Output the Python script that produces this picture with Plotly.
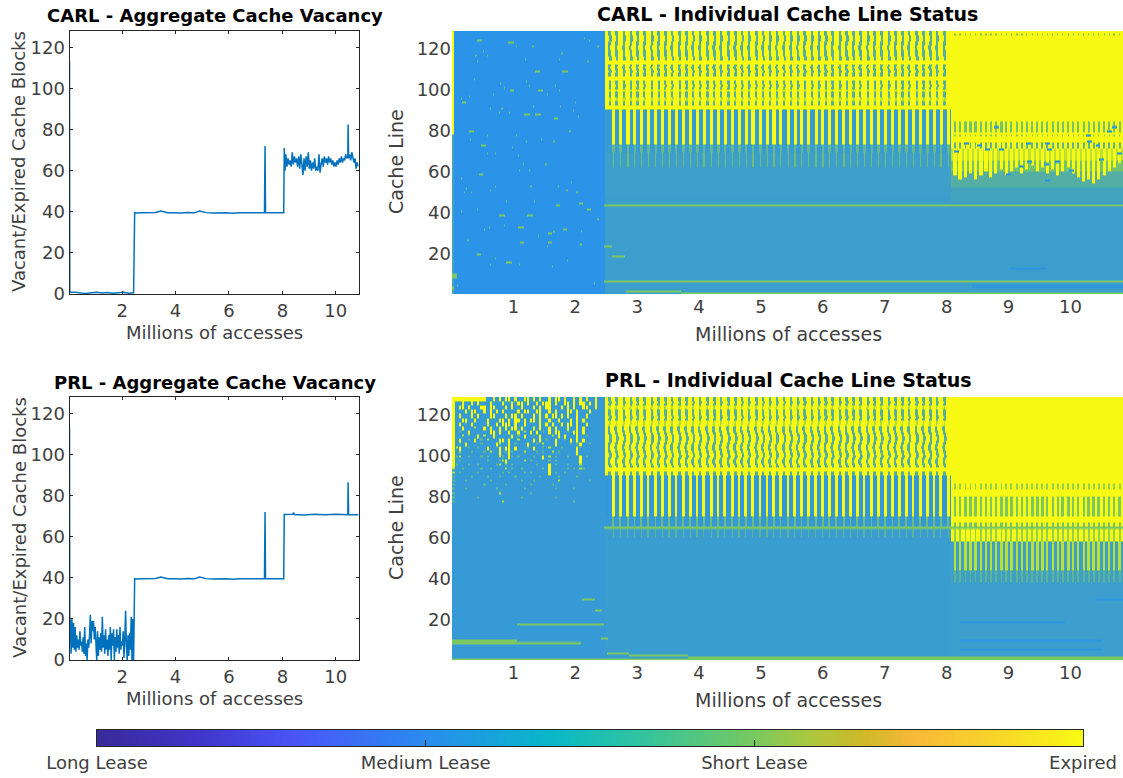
import numpy as np
import plotly.graph_objects as go

W, H = 1123, 778
FONT = "DejaVu Sans"

# ---- aggregate vacancy series (millions of accesses, blocks) ----
mid_x = [2.47, 2.50, 2.75, 3.00, 3.25, 3.45, 3.70, 3.95, 4.20, 4.45, 4.70, 4.90, 5.15, 5.40, 5.65, 5.90, 6.15, 6.40, 6.65, 6.90, 7.15, 7.33, 7.35, 7.37, 7.60, 7.85, 8.05]
mid_y = [39.8, 39.4, 39.6, 39.5, 39.7, 40.4, 39.5, 39.6, 39.4, 39.7, 39.5, 40.4, 39.6, 39.4, 39.6, 39.5, 39.3, 39.6, 39.5, 39.4, 39.6, 39.5, 72.0, 39.5, 39.6, 39.4, 39.5]

carl_start_x = [0.03, 0.03, 0.04, 0.06, 0.25, 0.45, 0.65, 0.85, 1.05, 1.25, 1.45, 1.65, 1.85, 2.05, 2.25, 2.43]
carl_start_y = [113, 50, 0.9, 0.8, 0.9, 0.5, 0.3, 0.6, 0.8, 0.5, 0.7, 0.4, 0.6, 0.9, 0.4, 0.6]
carl_end_x = [8.07, 8.10, 8.13, 8.17, 8.21, 8.25, 8.29, 8.33, 8.37, 8.41, 8.45, 8.49, 8.53, 8.57, 8.61, 8.65, 8.69, 8.73, 8.77, 8.81, 8.85, 8.89, 8.93, 8.97, 9.01, 9.05, 9.09, 9.13, 9.17, 9.21, 9.25, 9.29, 9.33, 9.37, 9.41, 9.45, 9.49, 9.53, 9.57, 9.61, 9.65, 9.69, 9.73, 9.77, 9.81, 9.85, 9.89, 9.93, 9.97, 10.01, 10.05, 10.09, 10.13, 10.17, 10.21, 10.25, 10.29, 10.33, 10.37, 10.41, 10.45, 10.46, 10.48, 10.52, 10.56, 10.60, 10.64, 10.68, 10.72, 10.76, 10.80, 10.85]
carl_end_y = [71, 60, 68, 62, 66, 63, 65, 62, 69, 63, 67, 64, 66, 62, 67, 61, 68, 63, 58, 66, 60, 67, 62, 69, 61, 65, 60, 64, 61, 66, 60, 62, 60, 68, 59, 63, 66, 62, 67, 64, 66, 63, 67, 64, 66, 63, 65, 62, 64, 62, 65, 63, 66, 64, 67, 64, 66, 65, 68, 66, 67, 82.5, 66, 68, 65, 69, 66, 64, 66, 61, 64, 62]

prl_start_x = [0.03, 0.03, 0.04, 0.06, 0.09, 0.12, 0.15, 0.18, 0.21, 0.24, 0.27, 0.30, 0.33, 0.36, 0.39, 0.42, 0.45, 0.48, 0.51, 0.54, 0.57, 0.60, 0.63, 0.66, 0.69, 0.72, 0.75, 0.78, 0.81, 0.84, 0.87, 0.90, 0.93, 0.96, 0.99, 1.02, 1.05, 1.08, 1.11, 1.14, 1.17, 1.20, 1.23, 1.26, 1.29, 1.32, 1.35, 1.38, 1.41, 1.44, 1.47, 1.50, 1.53, 1.56, 1.59, 1.62, 1.65, 1.68, 1.71, 1.74, 1.77, 1.80, 1.83, 1.86, 1.89, 1.92, 1.95, 1.98, 2.01, 2.04, 2.07, 2.10, 2.13, 2.16, 2.19, 2.22, 2.25, 2.28, 2.31, 2.34, 2.37, 2.40, 2.43]
prl_start_y = [113, 50, 20, 19, 3, 20, 6, 18, 5, 16, 4, 12, 6, 10, 5, 14, 7, 9, 4, 11, 3, 16, 2, 8, 0, 10, 6, 12, 22, 8, 19, 14, 19, 10, 16, 8, 0, 14, 2, 11, 5, 13, 4, 21, 6, 12, 3, 15, 5, 10, 2, 12, 5, 16, 0, 13, 7, 15, 0, 11, 4, 15, 6, 12, 3, 16, 5, 9, 7, 14, 1, 10, 24, 7, 0, 12, 2, 13, 5, 21, 0, 20, 0]
prl_end_x = [8.07, 8.40, 8.42, 8.45, 8.80, 9.20, 9.60, 10.00, 10.45, 10.46, 10.48, 10.70, 10.85]
prl_end_y = [70.8, 70.9, 71.8, 70.8, 70.6, 70.9, 70.7, 70.9, 70.7, 86.5, 70.8, 70.7, 70.7]

# ---- x axis ticks and labels ----
left_x_ticks = [2, 4, 6, 8, 10]
left_y_ticks = [0, 20, 40, 60, 80, 100, 120]
map_x_ticks = [1, 2, 3, 4, 5, 6, 7, 8, 9, 10]
map_y_ticks = [20, 40, 60, 80, 100, 120]
lease_levels = [0, 1, 2, 3]
lease_labels = ["Long Lease", "Medium Lease", "Short Lease", "Expired"]

# ---- recurring access bursts (millions of accesses) ----
bursts_b = [2.54, 2.65, 2.77, 2.88, 2.99, 3.10, 3.22, 3.33, 3.44, 3.55, 3.67, 3.78, 3.89, 4.00, 4.12, 4.23, 4.34, 4.46, 4.57, 4.68, 4.79, 4.91, 5.02, 5.13, 5.24, 5.36, 5.47, 5.58, 5.69, 5.81, 5.92, 6.03, 6.14, 6.26, 6.37, 6.48, 6.59, 6.71, 6.82, 6.93, 7.05, 7.16, 7.27, 7.38, 7.50, 7.61, 7.72, 7.83, 7.95]
bursts_c = [8.12, 8.20, 8.29, 8.37, 8.45, 8.54, 8.62, 8.70, 8.78, 8.87, 8.95, 9.03, 9.12, 9.20, 9.28, 9.37, 9.45, 9.53, 9.61, 9.70, 9.78, 9.86, 9.95, 10.03, 10.11, 10.20, 10.28, 10.36, 10.44, 10.53, 10.61, 10.69, 10.78]
carl_tooth_bottom = [58, 56, 57, 59, 56, 58, 60, 57, 59, 61, 58, 60, 62, 59, 61, 63, 60, 62, 59, 61, 58, 60, 62, 59, 57, 55, 56, 54, 56, 58, 60, 62, 64]

# per-line drift of the bursts, cache lines 128 downward
carl_drift = [0, 0, .01, .01, .01, 0, 0, -.01, -.01, 0, 0, 0, .01, .01, 0, 0, 0, -.01, 0, .01, 0, 0, 0, -.01, 0, 0, .01, 0, 0, 0, 0, 0, .01, 0, 0, 0, 0, 0]
prl_drift = [0, 0, .01, 0, 0, -.01, 0, 0, 0, .01, 0, 0, 0, -.01, -.015, -.015, -.01, 0, .01, .015, .015, .01, 0, -.01, -.015, -.01, 0, .01, .015, 0, -.01, -.01, 0, .01, 0, 0, 0, 0]

# bands: top line, bottom line, status between bursts, status in a burst, burst shift, burst width
carl_b_bands = [
    (128, 114, 3, 1.5, 0, .04), (114, 112, 3, 3, 0, 0), (112, 106, 3, 1.5, 0, .04), (106, 104, 3, 3, 0, 0),
    (104, 100, 3, 1.5, 0, .035), (100, 99, 3, 2.6, 0, .03), (99, 96, 3, 1.5, 0, .035), (96, 94, 3, 2.4, 0, .035),
    (94, 92, 3, 1.5, 0, .035), (92, 90.5, 3, 3, 0, 0), (90.5, 73, 1.15, 3, .065, .05), (73, 69, 1.15, 1.7, .065, .04),
    (69, 62, 1.22, 1.8, .065, .02), (62, 48, 1.22, 1.22, 0, 0), (48, 0, 1.2, 1.2, 0, 0),
]
carl_c_bands = [
    (128, 127, 3, 3, 0, 0), (127, 126, 3, 2, 0, .02), (126, 84.4, 3, 3, 0, 0), (84.4, 79, 3, 1.9, 0, .035),
    (79, 78.4, 3, 3, 0, 0), (78.4, 77, 3, 2.1, 0, .02), (77, 74.6, 3, 3, 0, 0), (74.6, 71, 3, 1.6, 0, .03),
    (71, 65, 2.5, 2.5, 0, 0), (65, 60, 1.9, 1.9, 0, 0), (60, 52, 1.5, 1.5, 0, 0), (52, 45, 1.3, 1.3, 0, 0), (45, 0, 1.2, 1.2, 0, 0),
]
prl_b_bands = [
    (128, 124.6, 3, 1.5, 0, .04), (124.6, 122.5, 3, 2.4, 0, .03), (122.5, 117, 3, 1.5, 0, .04), (117, 114.5, 3, 2.4, 0, .03),
    (114.5, 94, 3, 1.5, 0, .04), (94, 92, 3, 3, 0, 0), (92, 90, 3, 1.5, 0, .04), (90, 70, 1.1, 3, .06, .045),
    (70, 65.5, 1.12, 1.8, .06, .03), (65.5, 60, 1.18, 1.6, .06, .02), (60, 0, 1.18, 1.18, 0, 0),
]
prl_c_bands = [
    (128, 86.2, 3, 3, 0, 0), (86.2, 83.7, 3, 2.2, 0, .03), (83.7, 80.8, 3, 3, 0, 0), (80.8, 70, 3, 2.0, 0, .04),
    (70, 67, 3, 3, 0, 0), (67, 64, 3, 1.9, 0, .035), (64, 58, 3, 2.2, 0, .03), (58, 44, 1.25, 2.5, 0, .04),
    (44, 38.6, 1.25, 1.6, 0, .03), (38.6, 0, 1.2, 1.2, 0, 0),
]

# rectangles: start, end, top line, bottom line, status
carl_marks = [
    (0.0, 0.02, 128, 78, 3), (0.0, 0.02, 78, 0, 1.3), (0.0, 0.07, 10, 8, 2), (0.0, 0.03, 4, 2, 2),
    (2.45, 10.85, 44.6, 43.6, 2), (2.45, 10.85, 7.4, 6.4, 2), (2.45, 2.57, 24.4, 23.4, 2), (2.57, 2.78, 19.5, 18.5, 2),
    (2.80, 3.70, 2.1, 1.1, 2), (3.70, 10.85, 1.4, 0, 2),
    (9.00, 9.60, 13, 12, 1.05), (8.40, 10.85, 5, 3, 1.08),
]
prl_marks = [
    (0.0, 0.50, 128, 126, 3), (0.0, 0.04, 128, 110, 3), (0.0, 1.05, 10, 8, 2), (1.05, 2.08, 9.5, 8.5, 2), (1.05, 2.45, 18.5, 17.5, 2),
    (2.10, 2.30, 30.5, 29.5, 2), (2.30, 2.42, 25.5, 24.5, 2), (2.40, 2.52, 11.2, 10.2, 2),
    (2.50, 2.85, 4.4, 3.4, 2), (2.85, 3.80, 3.3, 2.3, 2), (3.80, 10.85, 2.2, 0, 2), (0.0, 3.80, 1.4, 0, 2),
    (2.45, 10.85, 65.9, 64.9, 2),
    (8.20, 9.90, 19, 18, 1.05), (8.20, 10.50, 10, 9, 1.05), (8.20, 10.50, 6, 5, 1.05), (10.40, 10.85, 30, 29, 1.05),
]

# isolated short-lease lines in the first phase of CARL: access (M), cache line, duration (M)
speck_x = [0.43, 0.95, 0.38, 0.50, 0.57, 0.41, 1.30, 1.04, 1.18, 1.73, 1.77, 2.21, 2.13, 2.35, 2.19, 1.38, 1.82, 0.35, 0.77, 0.84, 0.96, 0.66, 1.20, 1.24, 1.42, 1.67, 1.73, 1.54, 1.99, 0.14, 0.18, 0.27, 0.62, 0.80, 0.76, 0.92, 1.31, 1.75, 1.20, 1.38, 1.96, 2.03, 1.67, 1.03, 0.31, 0.57, 0.29, 1.19, 1.44, 1.64, 0.50, 0.97, 1.90, 0.57, 1.07, 0.70, 1.15, 1.08, 1.24, 1.51, 0.46, 0.14, 0.22, 0.19, 0.31, 0.61, 0.70, 0.87, 1.27, 1.32, 1.71, 1.85, 1.92, 2.01, 2.08, 1.70, 0.40, 0.14, 0.80, 1.25, 2.21, 2.35, 0.52, 0.60, 1.11, 0.84, 1.39, 1.64, 1.58, 1.82, 2.09, 1.12, 0.25, 1.57, 1.53, 2.08, 0.43, 0.70, 0.91, 0.62, 1.08, 1.86, 0.03, 2.29, 0.08, 1.62]
speck_y = [124, 123, 117, 119, 117, 114, 121, 121, 115, 115, 118, 124, 125, 121, 114, 109, 109, 105, 103, 101, 100, 98, 104, 102, 100, 102, 100, 98, 94, 96, 94, 97, 91, 91, 89, 89, 92, 92, 88, 88, 90, 87, 86, 78, 80, 78, 76, 75, 76, 75, 73, 72, 80, 69, 68, 69, 64, 61, 61, 64, 59, 57, 52, 50, 50, 51, 53, 46, 53, 46, 53, 51, 55, 50, 45, 44, 42, 41, 39, 39, 42, 37, 32, 33, 33, 34, 29, 31, 30, 32, 31, 26, 27, 26, 24, 25, 20, 18, 16, 15, 15, 17, 9, 6, 5, 14]
speck_w = [.08, .10, .02, .02, .02, .02, .02, .02, .02, .02, .02, .02, .02, .02, .02, .08, .09, .02, .02, .02, .06, .02, .02, .02, .07, .02, .02, .02, .02, .02, .06, .02, .02, .02, .02, .02, .02, .02, .09, .09, .02, .02, .06, .02, .09, .02, .02, .02, .02, .02, .07, .02, .02, .02, .02, .02, .02, .02, .02, .02, .06, .02, .02, .02, .02, .02, .02, .02, .02, .02, .02, .02, .02, .02, .06, .06, .02, .02, .09, .09, .06, .02, .02, .02, .09, .02, .02, .02, .06, .06, .02, .06, .02, .06, .02, .04, .06, .02, .10, .02, .02, .02, .06, .02, .02, .02]

# expired-to-medium flips among the CARL phase-3 teeth: access (M), cache line
flip_x = [8.79, 10.62, 10.70, 10.27, 8.30, 8.52, 8.65, 8.87, 9.30, 9.62, 9.65, 10.30, 10.43, 10.78, 8.14, 9.33, 9.60, 9.78, 10.00, 10.48, 8.98, 9.19, 9.62]
flip_y = [82, 80, 82, 78, 74, 73, 71, 71, 74, 74, 71, 75, 73, 69, 70, 65, 64, 65, 61, 66, 59, 63, 56]

# PRL first phase, cache lines 128, 126, ... downward, one character per 0.05 M accesses
# '#' expired, '+' nearly expired, ':' short lease, '.' medium
prl_first_phase = [
    "##........#..#.#.##.#..##.#.#..#.##.#..#.#.#..#",
    "#..#..#.#...#...#..#.##.#..#.###.#..##.#.##.#.#",
    "#.##.#...##.##...#.#..#...#.#.##...#.#.#..##..#",
    "#...#.##..#.#.#.#....#.##..##..#.#...##.#...#..",
    "#.#...#.#...##...#.##.#...#.#.#.##.#.#..#..#...",
    "#..##..#...#...##.#.##.#.##.#..#..#...#.#.#....",
    "#.#.:.#....#..#.###.#..#....#.#.#..#.##.#..#...",
    "#..#...+..#.#..#.#.##.#...#.#..#.#...#..#.#....",
    "#.:..#......##.#..#..#.+.#.#.:.#.##..:.##.#....",
    "#..+.:..#.+..#.....#.:.#..:.#...+.#.#...#..:...",
    "#.#..:.#.:.+...##.#..+....#.#.:..#..:.#.#.#....",
    "#.:.#....:....#+..#.:...#..:.+...#....:.:#..:..",
    "#+#..:..:..#...#.##.#...:.#..:.+...:....#......",
    "#.+...:...:.+..#.:#:...+...:.:..+.:.....#......",
    "#:+..:...:.:...+:.#:.:....:..#.+.:...:...#.:...",
    "#.:........:...:+#.....+.:.....:.:.......#.....",
    "#:...:..:.....:+.:.:.......:...#.:...:...+.....",
    "+..:.....:..:....+.:..:......:.#.....:.:.+:....",
    "+.:.....:.......:.:....:.:.....#.:..:..........",
    ":.....:....:...:....:.......:.....:.....:......",
    ":...:.......:.........:...:.......+.........:..",
    ":.........:......:.......:......:..............",
    ":...:.........:........:.........:.....:.......",
    ":..............+.........:.....................",
    ":.......:.............:..........:.............",
    ":...............+......................:.......",
]
speck_marks = {"#": 3, "+": 2.5, ":": 1.7}

# ---- status map assembly, all from the tables above ----
n_cols = 671
x_left, x_right = 0.008, 10.85
grid_x = x_left + (np.arange(n_cols) + 0.5) * (x_right - x_left) / n_cols
grid_y = np.arange(1, 129)


def rect(z, x0, x1, top, bottom, v):
    cols = (grid_x >= x0) & (grid_x < x1)
    rows = (grid_y <= top) & (grid_y > bottom)
    z[np.ix_(rows, cols)] = v


def bands(z, x0, x1, table, bursts, drift):
    for top, bottom, fill, burst, shift, width in table:
        rect(z, x0, x1, top, bottom, fill)
        if width == 0 or burst == fill:
            continue
        for line in grid_y[(grid_y <= top) & (grid_y > bottom)]:
            d = drift[128 - line] if 128 - line < len(drift) else 0
            for b in bursts:
                rect(z, b + shift + d - width / 2, b + shift + d + width / 2, line, line - 1, burst)


carl_z = np.full((128, n_cols), 1.0)
bands(carl_z, 2.47, 8.06, carl_b_bands, bursts_b, carl_drift)
bands(carl_z, 8.06, 10.9, carl_c_bands, bursts_c, [0] * 128)
for b, bottom in zip(bursts_c, carl_tooth_bottom):
    rect(carl_z, b - .025, b + .025, 71, bottom, 3)
for fx, fy in zip(flip_x, flip_y):
    rect(carl_z, fx - .04, fx + .04, fy, fy - 1, 1.0)
for sx, sy, sw in zip(speck_x, speck_y, speck_w):
    rect(carl_z, sx - sw / 2, sx + sw / 2, sy, sy - 1, 2 if sw > .03 else 1.8)
for x0, x1, top, bottom, v in carl_marks:
    rect(carl_z, x0, x1, top, bottom, v)

prl_z = np.full((128, n_cols), 1.13)
bands(prl_z, 2.47, 8.06, prl_b_bands, bursts_b, prl_drift)
bands(prl_z, 8.06, 10.9, prl_c_bands, bursts_c, [0] * 128)
for r, row in enumerate(prl_first_phase):
    for c, ch in enumerate(row):
        if ch in speck_marks:
            rect(prl_z, c * .05, c * .05 + .035, 128 - 2 * r, 127 - 2 * r if ch != "#" else 126.5 - 2 * r, speck_marks[ch])
for x0, x1, top, bottom, v in prl_marks:
    rect(prl_z, x0, x1, top, bottom, v)

# map colours: medium lease blue -> short lease green -> expired yellow
map_scale = [[0, "#2b93e8"], [0.5, "#7cc860"], [1, "#f8fa14"]]
bar_scale = [[0, "#3a2a9a"], [.1, "#4035c8"], [.2, "#4a55f8"], [.333, "#2a8cf0"], [.46, "#08b8c8"], [.55, "#30c4a0"],
             [.667, "#78c860"], [.72, "#a8c840"], [.78, "#d0b828"], [.83, "#f8b838"], [.92, "#f8d828"], [1, "#f8fa14"]]
LINE = "#0072bd"
AXC = "#262626"
TXT = "#404040"


def dx(a, b):
    return [a / W, b / W]


def dy(top, bottom):
    return [1 - bottom / H, 1 - top / H]


fig = go.Figure()
tick_font = dict(family=FONT, size=18, color=TXT)


def left_panel(n, top, bottom, xs, ys):
    fig.add_trace(go.Scatter(x=xs, y=ys, mode="lines", line=dict(color=LINE, width=1.5), xaxis=f"x{n}", yaxis=f"y{n}", showlegend=False))
    fig.update_layout(**{
        f"xaxis{n}": dict(domain=dx(69.5, 358.5), range=[0.03, 10.85], tickvals=left_x_ticks, ticks="inside", ticklen=3, tickcolor=AXC,
                          showline=True, linecolor=AXC, linewidth=1, mirror="ticks", showgrid=False, zeroline=False, tickfont=tick_font, anchor=f"y{n}"),
        f"yaxis{n}": dict(domain=dy(top, bottom), range=[0, 128], tickvals=left_y_ticks, ticks="inside", ticklen=3, tickcolor=AXC,
                          showline=True, linecolor=AXC, linewidth=1, mirror="ticks", showgrid=False, zeroline=False, tickfont=tick_font, anchor=f"x{n}"),
    })


def map_panel(n, top, bottom, z):
    fig.add_trace(go.Heatmap(x=grid_x, y=grid_y, z=z, zmin=1, zmax=3, colorscale=map_scale, showscale=False, zsmooth="best", xaxis=f"x{n}", yaxis=f"y{n}", hoverinfo="skip"))
    fig.update_layout(**{
        f"xaxis{n}": dict(domain=dx(452, 1123), range=[x_left, x_right], tickvals=map_x_ticks, ticks="", showline=False, showgrid=False, zeroline=False, tickfont=tick_font, anchor=f"y{n}"),
        f"yaxis{n}": dict(domain=dy(top, bottom), range=[0.5, 128.5], tickvals=map_y_ticks, ticks="", showline=False, showgrid=False, zeroline=False, tickfont=tick_font, anchor=f"x{n}"),
    })


left_panel(1, 31, 294, carl_start_x + mid_x + carl_end_x, carl_start_y + mid_y + carl_end_y)
map_panel(2, 31, 294, carl_z)
left_panel(3, 397, 660, prl_start_x + mid_x + prl_end_x, prl_start_y + mid_y + prl_end_y)
map_panel(4, 397, 660, prl_z)

# lease colour key
key_levels = np.linspace(0, 3, 400)
fig.add_trace(go.Heatmap(x=key_levels, y=[0, 1], z=[key_levels, key_levels], zmin=0, zmax=3, colorscale=bar_scale, showscale=False, xaxis="x5", yaxis="y5", hoverinfo="skip"))
fig.update_layout(
    xaxis5=dict(domain=dx(97, 1083), range=[0, 3], tickvals=lease_levels, ticktext=lease_labels, ticks="inside", ticklen=6, tickcolor=AXC,
                showline=True, linecolor=AXC, linewidth=1, mirror=True, showgrid=False, zeroline=False, tickfont=tick_font, anchor="y5"),
    yaxis5=dict(domain=dy(730, 746), range=[0, 1], showticklabels=False, ticks="", showline=True, linecolor=AXC, linewidth=1, mirror=True, showgrid=False, zeroline=False, anchor="x5"),
)


def label(text, x, y, size=18, bold=False, angle=0, color=TXT):
    fig.add_annotation(text=f"<b>{text}</b>" if bold else text, x=x / W, y=1 - y / H, xref="paper", yref="paper", showarrow=False,
                       font=dict(family=FONT, size=size, color=color), textangle=angle, xanchor="center", yanchor="middle")


for text, x, y, s in [("CARL - Aggregate Cache Vacancy", 215, 16, 18), ("PRL - Aggregate Cache Vacancy", 215, 382, 18),
                      ("CARL - Individual Cache Line Status", 787, 14, 19), ("PRL - Individual Cache Line Status", 788, 380, 19)]:
    label(text, x, y, size=s, bold=True, color="#000000")
for x, y, s in [(214, 332, 18), (214, 698, 18), (788, 334, 19), (788, 700, 19)]:
    label("Millions of accesses", x, y, size=s)
for y in [162, 528]:
    label("Vacant/Expired Cache Blocks", 19, y, angle=-90)
    label("Cache Line", 396, y, size=19, angle=-90)

fig.update_layout(width=W, height=H, margin=dict(l=0, r=0, t=0, b=0, autoexpand=False), paper_bgcolor="white", plot_bgcolor="white", font=dict(family=FONT), showlegend=False)
fig.write_html("out.html", config={"displayModeBar": False}, post_script="document.body.style.margin='0';document.body.style.overflow='hidden';")
